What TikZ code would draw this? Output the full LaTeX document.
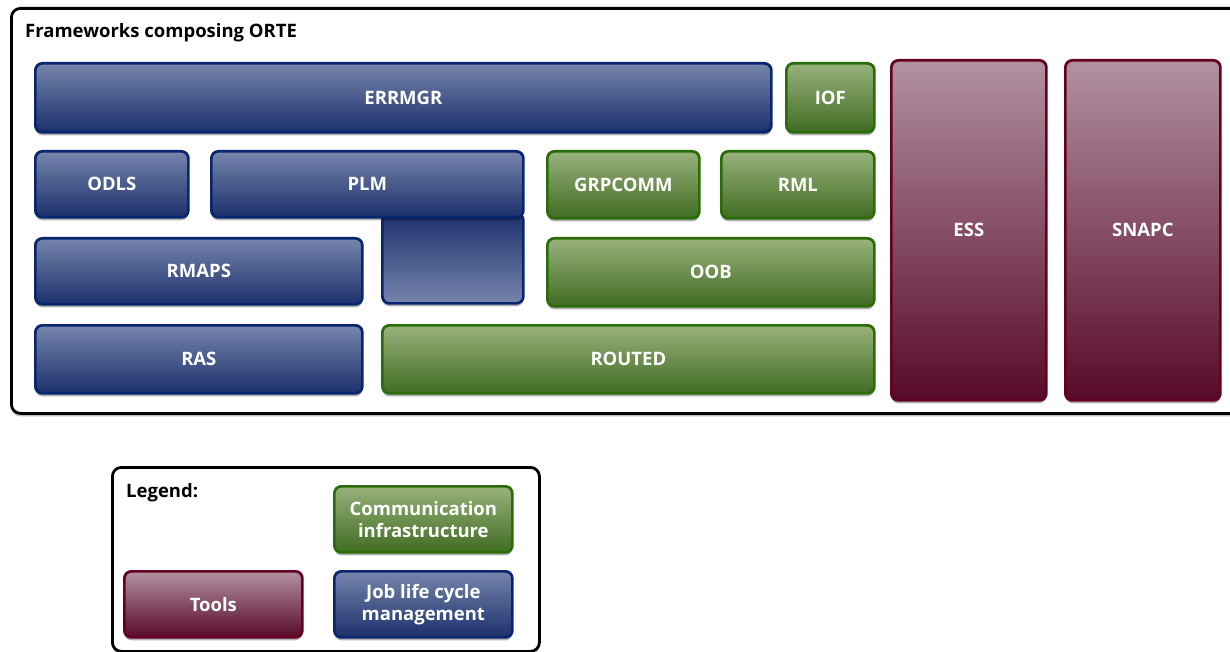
\documentclass[tikz,border=0pt]{standalone}
\usepackage{fontspec}
\setmainfont{Open Sans}
\usetikzlibrary{shadows}
\definecolor{blueT}{RGB}{118,133,172}
\definecolor{blueM}{RGB}{62,82,135}
\definecolor{blueB}{RGB}{28,48,108}
\definecolor{blueD}{RGB}{8,38,110}
\definecolor{greenT}{RGB}{152,178,124}
\definecolor{greenM}{RGB}{100,140,72}
\definecolor{greenB}{RGB}{64,108,34}
\definecolor{greenD}{RGB}{42,108,8}
\definecolor{redT}{RGB}{178,145,160}
\definecolor{redM}{RGB}{135,85,106}
\definecolor{redB}{RGB}{88,10,40}
\definecolor{redD}{RGB}{100,0,36}
\tikzset{
  fw/.style={rounded corners=7pt, line width=2.7pt, text=white,
    font=\fontsize{18.5}{22}\selectfont\bfseries, align=center, inner sep=0pt,
    anchor=north west,
    drop shadow={shadow xshift=0pt, shadow yshift=-3pt, opacity=0.3, fill=black}},
  bluebox/.style={fw, draw=blueD, top color=blueT, middle color=blueM, bottom color=blueB},
  bluerev/.style={fw, draw=blueD, top color=blueB, middle color=blueM, bottom color=blueT},
  greenbox/.style={fw, draw=greenD, top color=greenT, middle color=greenM, bottom color=greenB},
  redbox/.style={fw, draw=redD, top color=redT, middle color=redM, bottom color=redB},
  frame/.style={draw=black, line width=2.8pt, rounded corners=9pt, fill=white,
    drop shadow={shadow xshift=0pt, shadow yshift=-3pt, opacity=0.25, fill=black}},
  ttl/.style={font=\fontsize{18.5}{22}\selectfont\bfseries, anchor=west, inner sep=0pt}
}
\newcommand\fwbox[7]{\node[#1, minimum width={#5-#3}, minimum height={#6-#4}] (#2) at (#3,#4) {#7};}
\begin{document}
\begin{tikzpicture}[x=1pt,y=-1pt]
\clip (0,0) rectangle (1230,652);
\fill[white] (0,0) rectangle (1230,652);
% outer frame
\node[frame, minimum width=1240pt, minimum height=405pt, anchor=north west, inner sep=0pt] (outer) at (10,7) {};
\node[ttl] (title) at (25,33) {Frameworks composing ORTE};
% boxes
\fwbox{bluebox}{errmgr}{34}{62}{770}{131}{ERRMGR}
\fwbox{greenbox}{iof}{785}{62}{873}{131}{IOF}
\fwbox{bluebox}{odls}{34}{150}{187}{216}{ODLS}
\fwbox{bluerev}{plmlow}{381}{212}{522}{302}{}
\fwbox{bluebox}{plm}{210}{150}{522}{216}{PLM}
\fwbox{greenbox}{grpcomm}{546}{150}{698}{217}{GRPCOMM}
\fwbox{greenbox}{rml}{720}{150}{873}{217}{RML}
\fwbox{bluebox}{rmaps}{34}{237}{361}{303}{RMAPS}
\fwbox{greenbox}{oob}{546}{237}{873}{305}{OOB}
\fwbox{bluebox}{ras}{34}{324}{361}{392}{RAS}
\fwbox{greenbox}{routed}{381}{324}{873}{392}{ROUTED}
\fwbox{redbox}{ess}{890}{59}{1045}{399}{ESS}
\fwbox{redbox}{snapc}{1064}{59}{1219}{399}{SNAPC}
% legend
\node[frame, minimum width=427pt, minimum height=184pt, anchor=north west, inner sep=0pt] (legend) at (111,466) {};
\node[ttl] (legendtitle) at (126,493) {Legend:};
\fwbox{greenbox}{comm}{333}{485}{511}{551}{Communication\\infrastructure}
\fwbox{redbox}{tools}{123}{570}{301}{636}{Tools}
\fwbox{bluebox}{job}{333}{570}{511}{636}{Job life cycle\\management}
\end{tikzpicture}
\end{document}
